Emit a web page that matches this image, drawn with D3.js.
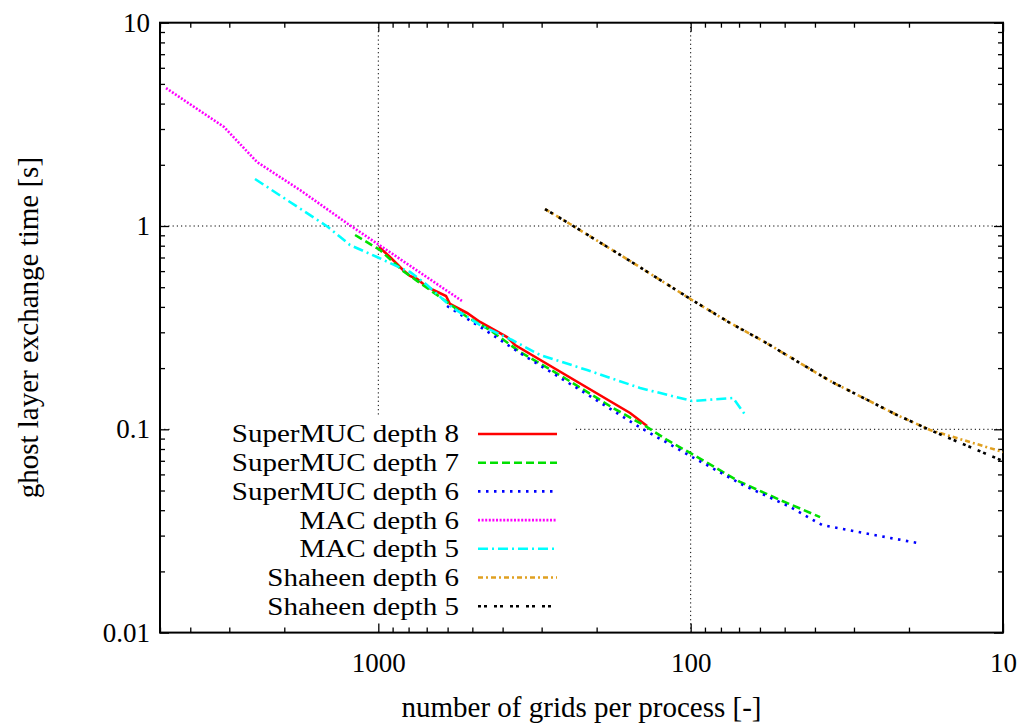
<!DOCTYPE html>
<html><head><meta charset="utf-8">
<script src="https://cdn.jsdelivr.net/npm/d3@7"></script>
<style>
body{margin:0;background:#fff}
text{font-family:"Liberation Serif","Times New Roman",serif;fill:#000}
</style>
</head><body>
<svg id="c" width="1027" height="726"></svg>
<script>
// ---- data ----
const seriesNames = ["SuperMUC depth 8","SuperMUC depth 7","SuperMUC depth 6","MAC depth 6","MAC depth 5","Shaheen depth 6","Shaheen depth 5"];
const seriesColors = ["#ff0000","#00e000","#0000ff","#ff00ff","#00ffff","#e0a020","#000000"];
const seriesDash = [null,"8,4","2.5,5.5","2,1.6","10,4,2,4","5,3,2,3","3,3,3,7"];

const supermuc8X = [994.8,917.5,833.6,791.5,751.6,698.4,607.1,589.5,519.8,472.3,387.1,365.0,156.3,137.9];
const supermuc8Y = [0.788,0.704,0.6077,0.5678,0.5487,0.5012,0.4525,0.4134,0.3734,0.3372,0.2844,0.2598,0.1203,0.1038];

const supermuc7X = [1187,987.5,833.6,683.0,602.6,519.8,438.9,351.8,256.2,177.2,137.9,119.0,100.4,69.48,51.72,38.51];
const supermuc7Y = [0.903,0.762,0.6008,0.4843,0.4230,0.3568,0.3079,0.2401,0.1808,0.1273,0.1026,0.0886,0.0765,0.0551,0.0449,0.0370];

const supermuc6X = [602.6,455.3,344.1,226.0,150.7,137.9,98.97,67.95,48.05,37.95,32.51,18.84];
const supermuc6Y = [0.4042,0.3079,0.2320,0.1561,0.1057,0.0976,0.0731,0.0532,0.0415,0.0338,0.0323,0.0276];

const mac6X = [4783,3119,2446,1781,1250,852,540];
const mac6Y = [4.77,3.07,2.064,1.503,1.023,0.688,0.428];

const mac5X = [2482,1449,1232,1009.5,833.6,791.5,698.4,602.6,576.6,472.3,373.0,303.5,214.6,145.2,98.97,73.14,66.46];
const mac5Y = [1.703,0.989,0.806,0.704,0.614,0.594,0.5127,0.418,0.395,0.3258,0.2749,0.2320,0.1957,0.1596,0.1378,0.1426,0.1162];

const shaheen6X = [292.6,243.3,156.3,98.97,74.77,58.64,35.78,21.83,17.12,10.0];
const shaheen6Y = [1.212,1.023,0.6726,0.4325,0.3334,0.2719,0.1728,0.1175,0.0992,0.0773];

const shaheen5X = [292.6,243.3,156.3,98.97,74.77,58.64,35.78,21.83,17.12,10.0];
const shaheen5Y = [1.212,1.023,0.6726,0.4325,0.3334,0.2719,0.1728,0.1175,0.0992,0.0698];

const xMajorTicks = [1000,100,10];
const yMajorTicks = [0.01,0.1,1,10];
const xLabel = "number of grids per process [-]";
const yLabel = "ghost layer exchange time [s]";

// ---- layout ----
const L = 160, R = 1003, T = 22.7, B = 632.6;
const svg = d3.select("#c");
const x = d3.scaleLog().domain([5000,10]).range([L,R]);
const y = d3.scaleLog().domain([0.01,10]).range([B,T]);

function minors(lo, hi){
  const out=[];
  for(let e=Math.floor(Math.log10(lo)); e<=Math.ceil(Math.log10(hi)); e++){
    for(let m=2;m<=9;m++){const v=m*Math.pow(10,e); if(v>=lo*0.999 && v<=hi*1.001) out.push(v);}
  }
  return out;
}
const xMinor = minors(10,5000);
const yMinor = minors(0.01,10);

// grid
const grid = svg.append("g").attr("class","grid");
grid.selectAll("line.gx").data(xMajorTicks.filter(d=>d<5000&&d>10)).join("line")
  .attr("x1",d=>x(d)).attr("x2",d=>x(d)).attr("y1",T).attr("y2",B)
  .attr("stroke","#000").attr("stroke-width",1).attr("stroke-dasharray","1.2,3");
grid.selectAll("line.gy").data(yMajorTicks.filter(d=>d>0.01&&d<10)).join("line")
  .attr("x1",L).attr("x2",R).attr("y1",d=>y(d)).attr("y2",d=>y(d))
  .attr("stroke","#000").attr("stroke-width",1).attr("stroke-dasharray","1.2,3");

// legend background (opaque key box)
svg.append("rect").attr("x",172).attr("y",415).attr("width",403).attr("height",214).attr("fill","#fff");

// axes
function styleAxis(g){ g.select(".domain").remove(); g.selectAll(".tick line").attr("stroke","#000").attr("stroke-width",1.3); }
const fs = 27;
svg.append("g").attr("transform",`translate(0,${B})`)
  .call(d3.axisBottom(x).tickValues(xMajorTicks).tickSize(-9).tickPadding(20).tickFormat(d3.format("d")))
  .call(styleAxis).call(g=>g.selectAll("text").attr("font-size",fs).attr("font-family",null));
svg.append("g").attr("transform",`translate(0,${B})`)
  .call(d3.axisBottom(x).tickValues(xMinor).tickSize(-5).tickFormat(""))
  .call(styleAxis);
svg.append("g").attr("transform",`translate(0,${T})`)
  .call(d3.axisTop(x).tickValues(xMajorTicks).tickSize(-9).tickFormat(""))
  .call(styleAxis);
svg.append("g").attr("transform",`translate(0,${T})`)
  .call(d3.axisTop(x).tickValues(xMinor).tickSize(-5).tickFormat(""))
  .call(styleAxis);
svg.append("g").attr("transform",`translate(${L},0)`)
  .call(d3.axisLeft(y).tickValues(yMajorTicks).tickSize(-9).tickPadding(10).tickFormat(d3.format("~g")))
  .call(styleAxis).call(g=>g.selectAll("text").attr("font-size",fs));
svg.append("g").attr("transform",`translate(${L},0)`)
  .call(d3.axisLeft(y).tickValues(yMinor).tickSize(-5).tickFormat(""))
  .call(styleAxis);
svg.append("g").attr("transform",`translate(${R},0)`)
  .call(d3.axisRight(y).tickValues(yMajorTicks).tickSize(-9).tickFormat(""))
  .call(styleAxis);
svg.append("g").attr("transform",`translate(${R},0)`)
  .call(d3.axisRight(y).tickValues(yMinor).tickSize(-5).tickFormat(""))
  .call(styleAxis);
svg.selectAll("g").attr("font-family",null);

// border
svg.append("rect").attr("x",L).attr("y",T).attr("width",R-L).attr("height",B-T)
  .attr("fill","none").attr("stroke","#000").attr("stroke-width",2);

// axis titles
svg.append("text").attr("x",(L+R)/2).attr("y",717).attr("text-anchor","middle").attr("font-size",29).text(xLabel);
svg.append("text").attr("transform",`translate(38,${(T+B)/2}) rotate(-90)`).attr("text-anchor","middle").attr("font-size",29).text(yLabel);

// series
const seriesX = [supermuc8X,supermuc7X,supermuc6X,mac6X,mac5X,shaheen6X,shaheen5X];
const seriesY = [supermuc8Y,supermuc7Y,supermuc6Y,mac6Y,mac5Y,shaheen6Y,shaheen5Y];
svg.append("clipPath").attr("id","clip").append("rect").attr("x",L).attr("y",T).attr("width",R-L).attr("height",B-T);
const line = d3.line().x(d=>x(d[0])).y(d=>y(d[1]));
const plot = svg.append("g").attr("clip-path","url(#clip)");
seriesNames.forEach((n,i)=>{
  const pts = seriesX[i].map((v,j)=>[v,seriesY[i][j]]);
  plot.append("path").datum(pts).attr("d",line).attr("fill","none")
    .attr("stroke",seriesColors[i]).attr("stroke-width",2.6)
    .attr("stroke-dasharray",seriesDash[i]);
});

// legend
const lg = svg.append("g");
const lfs = 25.5;
seriesNames.forEach((n,i)=>{
  const yy = 434 + i*28.7;
  const t = lg.append("text").attr("x",459).attr("y",yy).attr("dy","0.33em").attr("text-anchor","end").attr("font-size",lfs).text(n);
  const w = t.node().getComputedTextLength();
  t.attr("textLength", w*29/lfs).attr("lengthAdjust","spacingAndGlyphs");
  lg.append("line").attr("x1",478).attr("x2",557).attr("y1",yy).attr("y2",yy)
    .attr("stroke",seriesColors[i]).attr("stroke-width",2.6).attr("stroke-dasharray",seriesDash[i]);
});
</script>
</body></html>
